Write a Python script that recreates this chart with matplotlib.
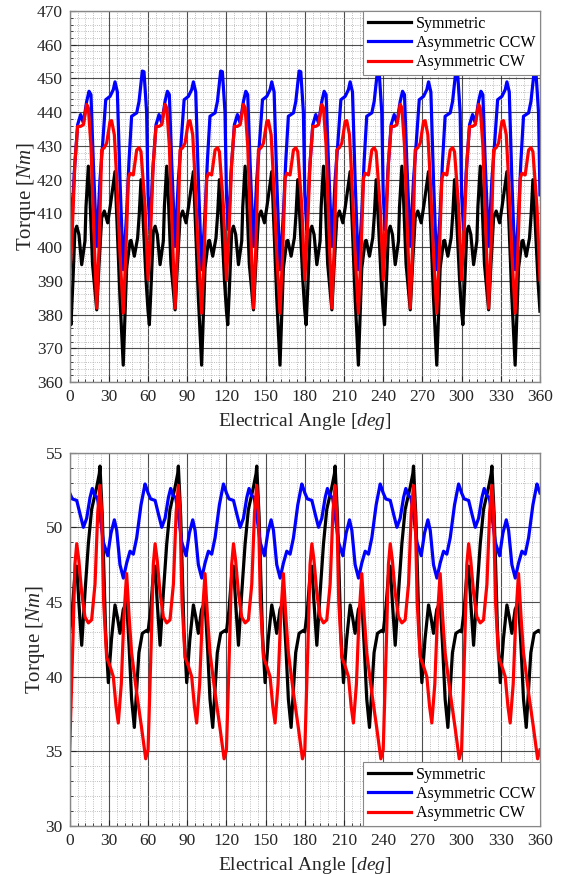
import numpy as np
import matplotlib
matplotlib.use('Agg')
import matplotlib.pyplot as plt
from matplotlib.ticker import MultipleLocator

# One 60 deg electrical period (the waveforms repeat 6 times)
# top plot: rated torque
top_sym_ang = [0, 1, 2.5, 4, 5.4, 7.1, 9.2, 11.7, 12.5, 14.3, 15.5, 17.5, 20.7, 22.5, 24.5,
               26.5, 29.1, 31, 34.7, 36.5, 38.5, 41, 43.6, 46.2, 47, 49.5, 52, 53.3, 54.6,
               56, 58.5]
top_sym_val = [381, 377, 390, 404.7, 406.2, 403.7, 394.8, 401.8, 412, 424, 415, 395, 381.4, 395,
               408.7, 410.7, 407.2, 412, 422.4, 405, 385, 365, 393.8, 401.8, 402, 397.3,
               402.7, 410, 420, 410, 390]

top_ccw_ang = [0, 1.5, 3.5, 6.1, 8.4, 10.5, 13, 14.8, 16.3, 18.1, 20.7, 23.2, 25, 27.6, 30.9,
               33.4, 34.7, 36.5, 38.5, 41, 43.6, 45.4, 47.4, 51.3, 53.1, 55.6, 56.9, 58.9]
top_ccw_val = [415.5, 405.2, 422, 436.3, 439.3, 436.8, 443.2, 446.2, 445.2, 425, 400.3, 420,
               429.3, 443.7, 444.7, 446.7, 449, 446, 420, 393.3, 410, 425.4, 438.8, 439.8,
               443.2, 452.2, 452, 440]

top_cw_ang = [0, 2, 4, 6.1, 8.4, 10.5, 13, 14.3, 16.3, 18.5, 20.7, 22.5, 24.5, 26.5, 28.3,
              30.9, 32.1, 34.2, 36, 38.5, 41, 43, 44.9, 46.2, 48.7, 51.3, 53.1, 54.6, 57.7]
top_cw_val = [390.3, 405, 425, 435.8, 435.8, 436.3, 442.3, 441.3, 430, 405, 381.9, 400, 428.8,
              429.5, 430.8, 437.3, 437.5, 433.3, 420, 398, 380.4, 398, 420.4, 421.9, 421.4,
              428.8, 429.5, 428.3, 412]

# bottom plot: low torque
bot_sym_ang = [0, 2, 4, 5.4, 7, 9.2, 11.7, 14.3, 16.8, 20.7, 22.7, 23.2, 25, 27.5, 29.6, 32,
               34.7, 36.5, 38.5, 41, 43.6, 45.5, 47.4, 49.5, 51.5, 53, 55.6, 59]
bot_sym_val = [43.0, 44.5, 46.8, 47.4, 45.0, 42.1, 45.6, 48.9, 51.2, 52.7, 53.6, 54.1, 50.7,
               43.0, 39.6, 42.5, 44.8, 44.0, 42.9, 44.5, 45.0, 42.0, 38.5, 36.6, 39.5, 41.6,
               42.9, 43.1]

bot_ccw_ang = [0, 2, 5.4, 7.9, 10.5, 13, 15.6, 17.3, 19.4, 21.2, 23.2, 25.8, 29.1, 31.6, 34.2,
               36, 38.5, 41.1, 43.6, 46.2, 48.7, 51.3, 54.6, 57.7, 58.9]
bot_ccw_val = [52.3, 51.9, 51.8, 50.9, 50.0, 50.6, 52.0, 52.6, 52.1, 52.0, 50.8, 49.0, 48.1,
               49.6, 50.5, 49.8, 47.5, 46.6, 47.6, 48.4, 48.2, 49.3, 51.5, 52.9, 52.6]

bot_cw_ang = [0, 2.5, 4, 5.4, 7, 9.2, 11.7, 14.3, 16.8, 19.4, 21.5, 23.2, 24.5, 26, 28.3, 30.9,
              33.4, 35.5, 37.2, 39.5, 41.5, 43.6, 45.5, 47.4, 51.3, 55, 58.2]
bot_cw_val = [35.1, 42.5, 47.5, 48.9, 47.8, 45.6, 44.0, 43.6, 43.8, 46.2, 51.0, 52.8, 51.0,
              45.0, 41.3, 40.7, 40.0, 38.0, 36.9, 39.5, 44.0, 46.9, 44.0, 41.6, 38.9, 36.6,
              34.5]

labels = ['Symmetric', 'Asymmetric CCW', 'Asymmetric CW']
colors = ['black', 'blue', 'red']


def tile_period(ang, val, n=6, period=60):
    """repeat one period over 0..n*period, closing at the end with the first value"""
    a = np.concatenate([np.asarray(ang, float) + k*period for k in range(n)] + [[n*period]])
    v = np.concatenate([np.asarray(val, float)]*n + [[val[0]]])
    return a, v


plt.rcParams['font.family'] = 'Liberation Serif'
plt.rcParams['mathtext.fontset'] = 'custom'
plt.rcParams['mathtext.rm'] = 'Liberation Serif'
plt.rcParams['mathtext.it'] = 'Liberation Serif:italic'

fig = plt.figure(figsize=(5.61, 8.75), dpi=100)
ax1 = fig.add_axes([0.1242, 0.5634, 0.8383, 0.424])
ax2 = fig.add_axes([0.1242, 0.056, 0.8383, 0.4267])

series = [
    (ax1, [(top_sym_ang, top_sym_val), (top_ccw_ang, top_ccw_val), (top_cw_ang, top_cw_val)],
     (360, 470), 10, 2, 'upper right'),
    (ax2, [(bot_sym_ang, bot_sym_val), (bot_ccw_ang, bot_ccw_val), (bot_cw_ang, bot_cw_val)],
     (30, 55), 5, 1, 'lower right'),
]

for ax, data, ylim, ymaj, ymin, loc in series:
    for (ang, val), c, lab in zip(data, colors, labels):
        a, v = tile_period(ang, val)
        ax.plot(a, v, color=c, lw=2.3, label=lab)
    ax.set_xlim(0, 360)
    ax.set_ylim(*ylim)
    ax.xaxis.set_major_locator(MultipleLocator(30))
    ax.xaxis.set_minor_locator(MultipleLocator(6))
    ax.yaxis.set_major_locator(MultipleLocator(ymaj))
    ax.yaxis.set_minor_locator(MultipleLocator(ymin))
    ax.grid(which='major', color='#222222', lw=0.8, alpha=0.8)
    ax.grid(which='minor', color='#aaaaaa', lw=0.6, ls=':')
    ax.set_axisbelow(True)
    ax.tick_params(which='both', direction='in', labelsize=12.5, colors='#262626',
                   labelcolor='#262626')
    ax.tick_params(which='major', length=4, pad=5)
    ax.tick_params(which='minor', length=2)
    for s in ax.spines.values():
        s.set_color('#888888')
        s.set_linewidth(1.0)
    ax.set_xlabel('Electrical Angle [$deg$]', fontsize=14, color='#262626', labelpad=4)
    ax.set_ylabel('Torque [$Nm$]', fontsize=15, color='#262626', labelpad=-1)
    leg = ax.legend(loc=loc, borderaxespad=0, fontsize=11.5, fancybox=False,
                    edgecolor='#888888', framealpha=1, handlelength=2.7,
                    labelspacing=0.2, borderpad=0.3, handletextpad=0.3)
    leg.get_frame().set_linewidth(0.8)

fig.savefig('out.png', dpi=100)
